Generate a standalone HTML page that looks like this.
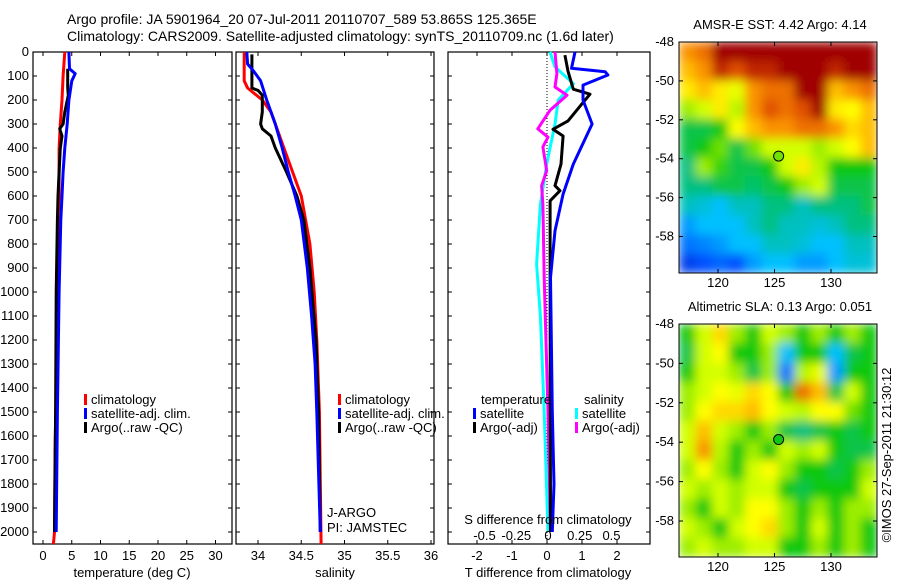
<!DOCTYPE html>
<html><head><meta charset="utf-8"><style>
body{margin:0;background:#fff;width:900px;height:580px;overflow:hidden}
svg{font-family:"Liberation Sans",sans-serif;font-size:13px}
</style></head><body>
<svg id="c" width="900" height="580"></svg>
<script>
// ---------- data ----------
const depthTicks=[0,100,200,300,400,500,600,700,800,900,1000,1100,1200,1300,1400,1500,1600,1700,1800,1900,2000];
const tempTicks=[0,5,10,15,20,25,30];
const salTicks=[34,34.5,35,35.5,36];
const tdTicks=[-2,-1,0,1,2];
const sdTicks=[-0.5,-0.25,0,0.25,0.5];
const sdTickLabels=["-0.5","-0.25","0","0.25","0.5"];
const latTicks=[-48,-50,-52,-54,-56,-58];
const lonTicks=[120,125,130];

const tClimD=[0,100,200,300,400,600,700,1000,1400,1650,2000,2050];
const tClimV=[3.8,3.5,3.3,3.0,2.8,2.8,2.6,2.5,2.3,2.1,2.0,1.8];
const tSatD=[0,70,90,120,200,300,400,500,600,700,1000,1500,2000];
const tSatV=[4.5,4.6,5.6,5.0,4.5,4.2,3.8,3.5,3.3,3.1,2.8,2.5,2.3];
const tArgD=[70,150,180,250,300,320,350,400,500,600,700,1000,1500,2000];
const tArgV=[4.3,4.3,4.4,3.8,3.5,2.9,3.3,3.0,2.8,2.6,2.5,2.3,2.2,2.0];

const sClimD=[0,120,150,200,250,300,400,500,600,700,800,1000,1200,1500,2050];
const sClimV=[33.84,33.84,33.88,34.05,34.15,34.2,34.3,34.4,34.5,34.55,34.6,34.65,34.68,34.71,34.73];
const sSatD=[0,50,80,120,200,250,300,400,500,600,700,900,1100,1300,1500,2000];
const sSatV=[33.87,33.88,33.95,34.03,34.1,34.15,34.2,34.28,34.35,34.43,34.5,34.57,34.62,34.66,34.68,34.72];
const sArgD=[10,150,160,180,250,300,320,350,400,500,600,700,900,1200,1500,2000];
const sArgV=[33.93,33.93,34.0,34.05,34.05,34.03,34.05,34.15,34.2,34.33,34.45,34.53,34.6,34.67,34.7,34.72];

const dTSatD=[0,68,82,96,138,200,300,467,592,745,940,1500,1800,2000];
const dTSatV=[0.8,0.7,1.66,1.74,1.03,1.03,1.29,0.75,0.46,0.23,0.1,0.15,0.2,0.15];
const dTArgD=[13,80,155,176,211,287,322,350,467,557,578,620,940,2000];
const dTArgV=[0.51,0.6,0.75,1.23,1.03,0.6,0.17,0.46,0.4,0.23,0.37,0.09,0.09,0.1];
const dSSatD=[0,62,132,200,300,467,634,884,1100,1500,2000];
const dSSatV=[0.016,0.055,0.2,0.08,0.055,-0.01,-0.06,-0.09,-0.06,-0.03,0.0];
const dSArgD=[0,90,146,180,243,320,355,395,495,557,634,940,1500,2000];
const dSArgV=[0.055,0.07,0.055,0.15,0.016,-0.08,0.0,-0.04,-0.01,-0.05,-0.04,-0.03,0.0,0.02];

const sstGrid=[
[0.8,0.85,1,1,1,1,1,1,1,1,1,1],
[0.75,0.8,0.95,0.9,0.95,0.95,1,1,1,0.95,1,1],
[0.7,0.75,0.7,0.65,0.8,0.85,0.85,1,1,0.75,0.8,0.85],
[0.58,0.62,0.7,0.6,0.8,0.9,0.85,0.9,1,0.7,0.68,0.75],
[0.45,0.45,0.5,0.68,0.75,0.8,0.8,0.85,0.85,0.8,0.72,0.75],
[0.45,0.5,0.55,0.45,0.55,0.62,0.62,0.62,0.58,0.62,0.68,0.75],
[0.4,0.58,0.52,0.45,0.45,0.5,0.62,0.7,0.6,0.5,0.5,0.5],
[0.4,0.4,0.45,0.45,0.42,0.45,0.5,0.58,0.62,0.45,0.45,0.45],
[0.35,0.33,0.3,0.35,0.35,0.4,0.4,0.35,0.4,0.4,0.4,0.45],
[0.25,0.3,0.3,0.3,0.35,0.4,0.35,0.35,0.33,0.35,0.4,0.4],
[0.2,0.22,0.25,0.3,0.3,0.35,0.35,0.33,0.3,0.3,0.35,0.35],
[0.12,0.15,0.18,0.15,0.25,0.3,0.3,0.25,0.25,0.3,0.33,0.33]];
const slaGrid=[
[0.5,0.62,0.72,0.58,0.5,0.62,0.58,0.5,0.58,0.5,0.58,0.5],
[0.45,0.62,0.68,0.5,0.5,0.58,0.3,0.5,0.5,0.3,0.45,0.5],
[0.5,0.62,0.62,0.58,0.45,0.58,0.2,0.6,0.65,0.25,0.5,0.5],
[0.58,0.62,0.68,0.65,0.72,0.68,0.5,0.85,0.75,0.45,0.62,0.5],
[0.58,0.68,0.72,0.72,0.75,0.68,0.62,0.6,0.68,0.68,0.55,0.5],
[0.62,0.75,0.62,0.58,0.5,0.58,0.45,0.4,0.45,0.5,0.45,0.5],
[0.62,0.8,0.6,0.5,0.58,0.5,0.62,0.58,0.62,0.5,0.45,0.45],
[0.58,0.68,0.58,0.5,0.62,0.68,0.58,0.5,0.5,0.45,0.5,0.58],
[0.62,0.58,0.62,0.58,0.62,0.62,0.5,0.45,0.5,0.5,0.5,0.62],
[0.58,0.5,0.62,0.58,0.68,0.68,0.58,0.5,0.58,0.5,0.58,0.58],
[0.62,0.58,0.5,0.62,0.68,0.72,0.58,0.5,0.62,0.5,0.58,0.5],
[0.58,0.62,0.58,0.58,0.62,0.62,0.5,0.5,0.58,0.5,0.58,0.5]];

// ---------- helpers ----------
const NS="http://www.w3.org/2000/svg";
const svg=document.getElementById('c');
function mk(tag,attrs,parent){const e=document.createElementNS(NS,tag);for(const k in attrs)e.setAttribute(k,attrs[k]);(parent||svg).appendChild(e);return e;}
function txt(x,y,s,anchor,parent){const t=mk('text',{x:x,y:y,'text-anchor':anchor||'start',fill:'#000'},parent);t.textContent=s;return t;}
const TOP=52,BOT=544;
const yD=d=>TOP+d*0.24;
const xT=v=>43+v*5.75;
const xS=v=>258+(v-34)*86.5;
const xTD=v=>547+v*35;
const xSD=v=>548+v*127;

function panel(x0,x1,name){
  const g=mk('g',{});
  
  
  mk('rect',{x:x0,y:TOP,width:x1-x0,height:BOT-TOP,fill:'#fff',stroke:'#000','stroke-width':1.2},g);
  depthTicks.forEach(d=>{mk('line',{x1:x0,x2:x0+4,y1:yD(d),y2:yD(d),stroke:'#000'},g);mk('line',{x1:x1-4,x2:x1,y1:yD(d),y2:yD(d),stroke:'#000'},g);});
  return g;
}
function xticks(g,ticks,labels,fx,ly){
  ticks.forEach((v,i)=>{const x=fx(v);mk('line',{x1:x,x2:x,y1:TOP,y2:TOP+4,stroke:'#000'},g);mk('line',{x1:x,x2:x,y1:BOT-4,y2:BOT,stroke:'#000'},g);
    const t=txt(x,ly,labels[i],'middle',g);});
}
function line(g,D,V,fx,col,name){
  const pts=D.map((d,i)=>fx(V[i]).toFixed(1)+','+yD(d).toFixed(1)).join(' ');
  const p=mk('polyline',{points:pts,fill:'none',stroke:col,'stroke-width':3,'stroke-linejoin':'round'},g);
  
}
function legend(g,x,y,col,label){
  mk('rect',{x:x,y:y-10,width:3,height:11,fill:col},g);
  const t=txt(x+7,y,label,'start',g);
}

// titles
let t=txt(67,24,"Argo profile: JA 5901964_20 07-Jul-2011 20110707_589 53.865S 125.365E",'start');
t.setAttribute('font-size','14');
t=txt(67,41,"Climatology: CARS2009. Satellite-adjusted climatology: synTS_20110709.nc (1.6d later)",'start');
t.setAttribute('font-size','14');

// depth labels
depthTicks.forEach(d=>{const l=txt(29,yD(d)+4,String(d),'end');});

// panel 1 temperature
const p1=panel(33,232,'temperature-panel');
xticks(p1,tempTicks,tempTicks.map(String),xT,560);
line(p1,tClimD,tClimV,xT,'#ff0000','temp-climatology-line');
line(p1,tArgD,tArgV,xT,'#000000','temp-argo-line');
line(p1,tSatD,tSatV,xT,'#0000ff','temp-satellite-line');
t=txt(132,577,"temperature (deg C)",'middle',p1);
legend(p1,84,404,'#ff0000','climatology');
legend(p1,84,418,'#0000ff','satellite-adj. clim.');
legend(p1,84,432,'#000000','Argo(..raw -QC)');

// panel 2 salinity
const p2=panel(236,434,'salinity-panel');
xticks(p2,salTicks,["34","34.5","35","35.5","36"],xS,560);
line(p2,sClimD,sClimV,xS,'#ff0000','sal-climatology-line');
line(p2,sArgD,sArgV,xS,'#000000','sal-argo-line');
line(p2,sSatD,sSatV,xS,'#0000ff','sal-satellite-line');
t=txt(335,577,"salinity",'middle',p2);
legend(p2,338,404,'#ff0000','climatology');
legend(p2,338,418,'#0000ff','satellite-adj. clim.');
legend(p2,338,432,'#000000','Argo(..raw -QC)');
t=txt(327,517,"J-ARGO",'start',p2);
t=txt(327,532,"PI: JAMSTEC",'start',p2);

// panel 3 differences
const p3=panel(448,650,'difference-panel');
xticks(p3,tdTicks,tdTicks.map(String),xTD,560);
mk('line',{x1:xTD(0),x2:xTD(0),y1:TOP,y2:BOT,stroke:'#000','stroke-dasharray':'1,2'},p3);
line(p3,dSSatD,dSSatV,xSD,'#00ffff','s-diff-satellite-line');
line(p3,dSArgD,dSArgV,xSD,'#ff00ff','s-diff-argo-line');
line(p3,dTArgD,dTArgV,xTD,'#000000','t-diff-argo-line');
line(p3,dTSatD,dTSatV,xTD,'#0000ff','t-diff-satellite-line');
sdTicks.forEach((v,i)=>{const l=txt(xSD(v),540,sdTickLabels[i],'middle',p3);});
t=txt(548,524,"S difference from climatology",'middle',p3);
t=txt(548,577,"T difference from climatology",'middle',p3);
t=txt(481,404,"temperature",'start',p3);
t=txt(584,404,"salinity",'start',p3);
legend(p3,473,418,'#0000ff','satellite');
legend(p3,473,432,'#000000','Argo(-adj)');
legend(p3,575,418,'#00ffff','satellite');
legend(p3,575,432,'#ff00ff','Argo(-adj)');

// maps
const stops=[[0,[0,0,160]],[0.15,[0,80,255]],[0.3,[0,192,255]],[0.4,[0,192,128]],[0.5,[16,200,16]],[0.56,[130,230,0]],[0.62,[210,255,0]],[0.68,[255,255,0]],[0.78,[255,160,0]],[0.9,[224,80,0]],[1,[160,0,0]]];
function cmap(v){for(let i=1;i<stops.length;i++){if(v<=stops[i][0]){const a=stops[i-1],b=stops[i],f=(v-a[0])/(b[0]-a[0]);const c=a[1].map((x,k)=>Math.round(x+(b[1][k]-x)*f));return `rgb(${c})`;}}return 'rgb(160,0,0)';}
const defs=mk('defs',{});
const flt=mk('filter',{id:'bl',x:'0',y:'0',width:'1',height:'1'},defs);
mk('feGaussianBlur',{stdDeviation:5,edgeMode:'duplicate'},flt);
function map(y0,y1,grid,title,name,markV){
  const x0=679,x1=877;
  const g=mk('g',{});
  
  const lonX=l=>718+(l-120)*11.3;
  const scale=(y1===273)?19.45:19.7;
  const ly=la=>y0+(-48-la)*scale;
  const cid='clip'+name;
  const cp=mk('clipPath',{id:cid},defs);mk('rect',{x:x0,y:y0,width:x1-x0,height:y1-y0},cp);
  const gg=mk('g',{'clip-path':`url(#${cid})`},g);
  const gi=mk('g',{filter:'url(#bl)'},gg);
  const rows=grid.length,cols=grid[0].length,cw=(x1-x0)/cols,ch=(y1-y0)/rows;
  grid.forEach((r,i)=>r.forEach((v,j)=>{const c=mk('rect',{x:x0+j*cw,y:y0+i*ch,width:cw+0.6,height:ch+0.6,fill:cmap(v)},gi);
    }));
  mk('rect',{x:x0,y:y0,width:x1-x0,height:y1-y0,fill:'none',stroke:'#000'},g);
  latTicks.forEach(la=>{const y=ly(la);mk('line',{x1:x0,x2:x0+4,y1:y,y2:y,stroke:'#000'},g);mk('line',{x1:x1-4,x2:x1,y1:y,y2:y,stroke:'#000'},g);
    const l=txt(674,y+4,String(la),'end',g);});
  lonTicks.forEach(lo=>{const x=lonX(lo);mk('line',{x1:x,x2:x,y1:y0,y2:y0+4,stroke:'#000'},g);mk('line',{x1:x,x2:x,y1:y1-4,y2:y1,stroke:'#000'},g);
    const l=txt(x,y1+14,String(lo),'middle',g);});
  const tt=txt(780,y0-13,title,'middle',g);
  const m=mk('circle',{cx:lonX(125.365),cy:ly(-53.865),r:5,fill:cmap(markV),stroke:'#000','stroke-width':1},g);
  
}
map(42,273,sstGrid,"AMSR-E SST: 4.42  Argo: 4.14",'sst-map',0.55);
map(324,557,slaGrid,"Altimetric SLA: 0.13  Argo: 0.051",'sla-map',0.5);
t=txt(0,0,"©IMOS 27-Sep-2011 21:30:12",'middle');
t.setAttribute('transform','translate(891,455) rotate(-90)');

</script>
</body></html>
